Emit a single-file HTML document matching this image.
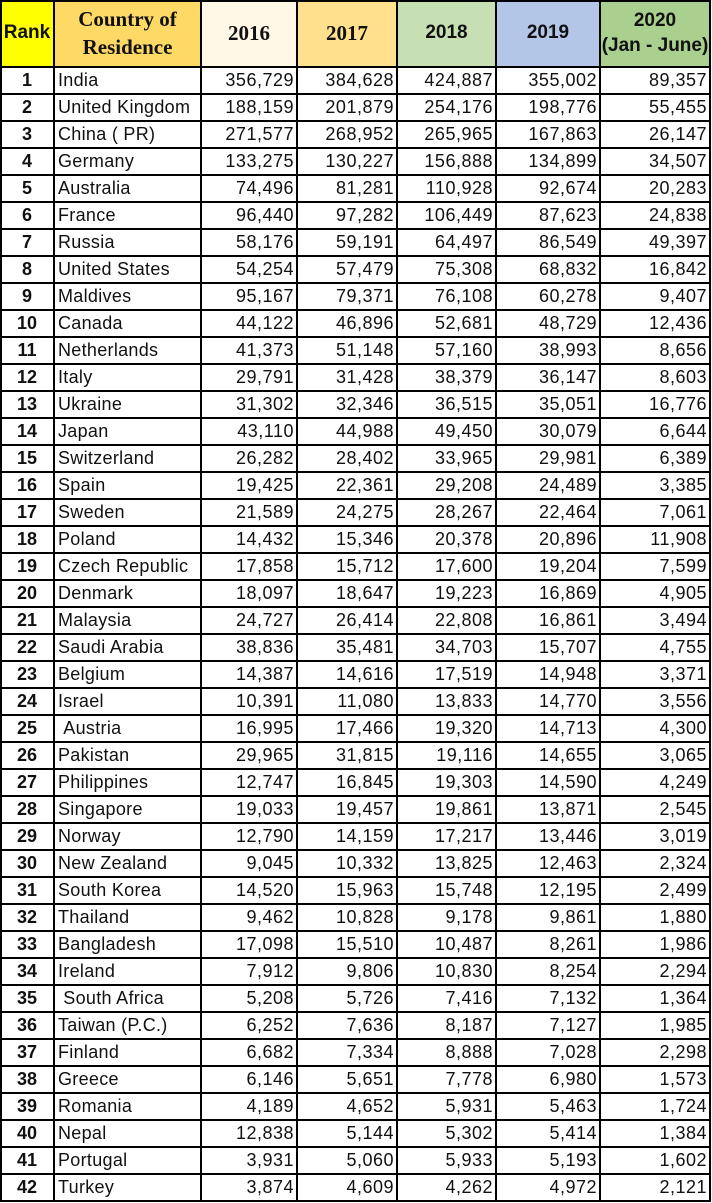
<!DOCTYPE html>
<html><head><meta charset="utf-8">
<style>
body{margin:0;width:712px;height:1203px;background:#fff;overflow:hidden;position:relative;font-family:"Liberation Sans",sans-serif;}
.c{position:absolute;box-sizing:border-box;display:flex;align-items:center;white-space:nowrap;color:#111;}
.h{justify-content:center;text-align:center;font-weight:bold;line-height:1.3;}
.serif{font-family:"Liberation Serif",serif;font-size:21px;}
.sans{font-size:19px;}
.rk{justify-content:center;font-weight:bold;font-size:18px;}
.nm{padding-left:4px;font-size:18px;letter-spacing:0.3px;}
.num{justify-content:flex-end;padding-right:3px;font-size:18px;letter-spacing:0.5px;}
.vl{position:absolute;top:0;width:2px;height:1201px;background:#000;}
.hl{position:absolute;left:0;width:711px;height:2px;background:#000;}
</style></head><body>
<div id="tbl"></div>
<script>
const countries=["India","United Kingdom","China ( PR)","Germany","Australia","France","Russia","United States","Maldives","Canada","Netherlands","Italy","Ukraine","Japan","Switzerland","Spain","Sweden","Poland","Czech Republic","Denmark","Malaysia","Saudi Arabia","Belgium","Israel","\u00a0Austria","Pakistan","Philippines","Singapore","Norway","New Zealand","South Korea","Thailand","Bangladesh","Ireland","\u00a0South Africa","Taiwan (P.C.)","Finland","Greece","Romania","Nepal","Portugal","Turkey"];
const v2016=[356729,188159,271577,133275,74496,96440,58176,54254,95167,44122,41373,29791,31302,43110,26282,19425,21589,14432,17858,18097,24727,38836,14387,10391,16995,29965,12747,19033,12790,9045,14520,9462,17098,7912,5208,6252,6682,6146,4189,12838,3931,3874];
const v2017=[384628,201879,268952,130227,81281,97282,59191,57479,79371,46896,51148,31428,32346,44988,28402,22361,24275,15346,15712,18647,26414,35481,14616,11080,17466,31815,16845,19457,14159,10332,15963,10828,15510,9806,5726,7636,7334,5651,4652,5144,5060,4609];
const v2018=[424887,254176,265965,156888,110928,106449,64497,75308,76108,52681,57160,38379,36515,49450,33965,29208,28267,20378,17600,19223,22808,34703,17519,13833,19320,19116,19303,19861,17217,13825,15748,9178,10487,10830,7416,8187,8888,7778,5931,5302,5933,4262];
const v2019=[355002,198776,167863,134899,92674,87623,86549,68832,60278,48729,38993,36147,35051,30079,29981,24489,22464,20896,19204,16869,16861,15707,14948,14770,14713,14655,14590,13871,13446,12463,12195,9861,8261,8254,7132,7127,7028,6980,5463,5414,5193,4972];
const v2020=[89357,55455,26147,34507,20283,24838,49397,16842,9407,12436,8656,8603,16776,6644,6389,3385,7061,11908,7599,4905,3494,4755,3371,3556,4300,3065,4249,2545,3019,2324,2499,1880,1986,2294,1364,1985,2298,1573,1724,1384,1602,2121];
const xs=[0,54,201,297,397,496,600,710];
const HEAD=67,RH=27;
const tbl=document.getElementById('tbl');
function cell(cls,x0,x1,y,h,html,bg,name){
  const d=document.createElement('div');
  d.className='c '+cls;
  d.style.left=x0+'px';d.style.top=y+'px';d.style.width=(x1-x0)+'px';d.style.height=h+'px';
  if(bg)d.style.background=bg;
  d.innerHTML=html;
  
  
  tbl.appendChild(d);
}
const heads=[["Rank","#ffff00","sans"],["Country of<br>Residence","#ffd966","serif"],["2016","#fff8e6","serif"],["2017","#ffe08c","serif"],["2018","#c6e0b4","sans"],["2019","#b4c6e7","sans"],["2020<br>(Jan - June)","#a9d08e","sans"]];
heads.forEach((hd,i)=>cell('h '+hd[2],xs[i],xs[i+1],0,HEAD,hd[0],hd[1],'header-'+i));
const fmt=n=>n.toLocaleString('en-US');
const series=[v2016,v2017,v2018,v2019,v2020];
countries.forEach((c,r)=>{
  const y=HEAD+r*RH;
  cell('rk',xs[0],xs[1],y,RH,String(r+1),null,'rank-cell');
  cell('nm',xs[1],xs[2],y,RH,c,null,'country-cell');
  series.forEach((s,k)=>cell('num',xs[k+2],xs[k+3],y,RH,fmt(s[r]),null,'value-cell'));
});
xs.forEach(x=>{const d=document.createElement('div');d.className='vl';d.style.left=(x===0?0:x-1)+'px';


tbl.appendChild(d);});
for(let r=0;r<=countries.length;r++){const d=document.createElement('div');d.className='hl';d.style.top=(r===0?HEAD-1:HEAD+r*RH-1)+'px';


tbl.appendChild(d);}
const topLine=document.createElement('div');topLine.className='hl';topLine.style.top='0px';


tbl.appendChild(topLine);
</script>
</body></html>
